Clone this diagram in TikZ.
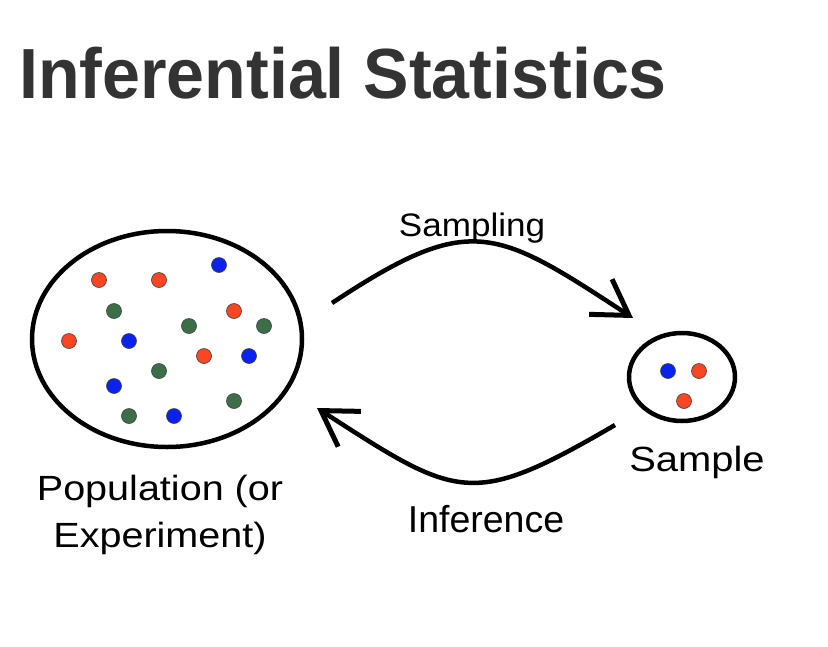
\documentclass[tikz,border=0pt]{standalone}
\usepackage{fontspec}
\usetikzlibrary{arrows.meta,shapes.geometric}
\newfontfamily\lsans{Liberation Sans}
\definecolor{titlegray}{HTML}{333333}
\definecolor{dotred}{HTML}{FA4622}
\definecolor{dotblue}{HTML}{0A22F0}
\definecolor{dotgreen}{HTML}{3C6E48}
\tikzset{
  blob/.style={ellipse, draw=black, line width=4.5pt, inner sep=0pt},
  dotstyle/.style={circle, draw=black!75, line width=0.6pt, minimum size=15pt, inner sep=0pt},
  rd/.style={dotstyle, fill=dotred},
  bl/.style={dotstyle, fill=dotblue},
  gr/.style={dotstyle, fill=dotgreen},
  arr/.style={line width=4.5pt, -{Straight Barb[length=34pt, width=42pt, line width=5pt]}},
  lbl/.style={inner sep=0pt, anchor=base, text=black}
}
\begin{document}
\begin{tikzpicture}[x=1pt, y=-1pt]
\useasboundingbox (0,0) rectangle (828,646);
\fill[white] (0,0) rectangle (828,646);
% title
\node[inner sep=0pt, anchor=base west, text=titlegray, font=\lsans\bfseries\fontsize{71}{80}\selectfont] (title) at (19,98) {\scalebox{0.96}[1]{Inferential Statistics}};
% population
\node[blob, minimum width=270pt, minimum height=216pt] (pop) at (167,339) {};
\node[rd] (p1) at (99,280) {};
\node[rd] (p2) at (159,280) {};
\node[bl] (p3) at (219,265) {};
\node[gr] (p4) at (114,311) {};
\node[rd] (p5) at (234,311) {};
\node[gr] (p6) at (189,326) {};
\node[gr] (p7) at (264,326) {};
\node[rd] (p8) at (69,341) {};
\node[bl] (p9) at (129,341) {};
\node[rd] (p10) at (204,356) {};
\node[bl] (p11) at (249,356) {};
\node[gr] (p12) at (159,371) {};
\node[bl] (p13) at (114,386) {};
\node[gr] (p14) at (234,401) {};
\node[gr] (p15) at (129,416) {};
\node[bl] (p16) at (174,416) {};
% sample
\node[blob, minimum width=106pt, minimum height=88pt] (samp) at (682,377) {};
\node[bl] (s1) at (668,371) {};
\node[rd] (s2) at (699,371) {};
\node[rd] (s3) at (684,401) {};
% labels
\node[lbl, align=center, font=\lsans\fontsize{35}{47}\selectfont] (poplbl) at (160,547) {\scalebox{1.13}[1]{Population (or}\\\scalebox{1.13}[1]{Experiment)}};
\node[lbl, font=\lsans\fontsize{35}{40}\selectfont] (samplbl) at (697,471) {\scalebox{1.14}[1]{Sample}};
\node[lbl, font=\lsans\fontsize{32.5}{38}\selectfont] (samplinglbl) at (472,236) {\scalebox{1.08}[1]{Sampling}};
\node[lbl, font=\lsans\fontsize{37.5}{42}\selectfont] (inflbl) at (486,532) {Inference};
% arrows
\coordinate (sa) at (332,303);
\coordinate (sb) at (633,318);
\coordinate (ia) at (615,425);
\coordinate (ib) at (317,408);
\draw[arr] (sa) .. controls (470,212) and (494,227) .. (sb);
\draw[arr] (ia) .. controls (471,509) and (458,499) .. (ib);
\end{tikzpicture}
\end{document}
